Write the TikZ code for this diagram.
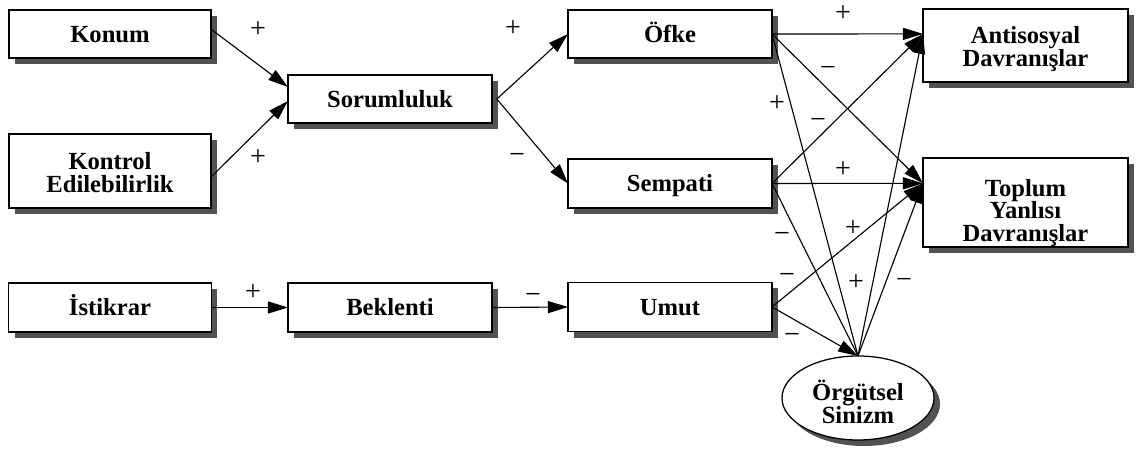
\documentclass[tikz,border=0pt]{standalone}
\usepackage{fontspec}
\setmainfont{Liberation Serif}
\usetikzlibrary{arrows.meta,shadows,shapes.geometric}
\begin{document}
\begin{tikzpicture}[x=0.025cm,y=-0.025cm,
  box/.style={draw=black, line width=0.9pt, fill=white, inner sep=0pt, outer sep=0pt,
    align=center, font=\bfseries\fontsize{17.5}{16.3}\selectfont,
    drop shadow={shadow xshift=0.15cm, shadow yshift=-0.15cm, fill=black!68, opacity=1}},
  oneline/.style={text height=11.8pt, text depth=0pt},
  ell/.style={box, ellipse, minimum width=3.8cm, minimum height=2.1cm},
  arr/.style={-{Triangle[length=0.5cm,width=0.3cm]}, line width=0.8pt},
  ln/.style={line width=0.8pt},
  sign/.style={font=\fontsize{20}{20}\selectfont, inner sep=0pt}]
\useasboundingbox (0,0) rectangle (1139,452);
% nodes
\node[box, oneline, minimum width=5.05cm, minimum height=1.2cm] (konum) at (110,34) {Konum};
\node[box, minimum width=5.05cm, minimum height=1.85cm] (kontrol) at (110,171) {\rule{0pt}{15pt}Kontrol\\Edilebilirlik};
\node[box, oneline, minimum width=5.1cm, minimum height=1.2cm] (sor) at (390,99) {Sorumluluk};
\node[box, oneline, minimum width=5.1cm, minimum height=1.2cm] (ofke) at (670,34) {Öfke};
\node[box, oneline, minimum width=5.1cm, minimum height=1.22cm] (sempati) at (670,183.5) {Sempati};
\node[box, oneline, minimum width=5.1cm, minimum height=1.24cm] (umut) at (670,307) {Umut};
\node[box, oneline, minimum width=5.07cm, minimum height=1.23cm] (istikrar) at (110,307.5) {İstikrar};
\node[box, oneline, minimum width=5.1cm, minimum height=1.23cm] (beklenti) at (390,307.5) {Beklenti};
\node[box, minimum width=5.125cm, minimum height=1.825cm] (anti) at (1025.5,45.5) {\rule{0pt}{17pt}Antisosyal\\Davranışlar};
\node[box, minimum width=5.125cm, minimum height=2.225cm] (toplum) at (1025.5,202.5) {\rule{0pt}{27pt}Toplum\\Yanlısı\\Davranışlar};
\node[ell] (sinizm) at (858,398) {\rule{0pt}{20pt}Örgütsel\\Sinizm};
% target points
\coordinate (antiIn) at ([yshift=0.29cm]anti.west);
\coordinate (topIn) at ([yshift=0.48cm]toplum.west);
% connectors
\draw[arr] ([yshift=0.12cm]konum.east) -- ([yshift=0.3cm]sor.west);
\draw[arr] ([yshift=-0.15cm]kontrol.east) -- ([yshift=-0.05cm]sor.west);
\draw[arr] ([xshift=0.12cm]sor.east) -- (ofke.west);
\draw[arr] ([xshift=0.12cm]sor.east) -- (sempati.west);
\draw[arr] (istikrar.east) -- (beklenti.west);
\draw[arr] (beklenti.east) -- (umut.west);
\draw[arr] (ofke.east) -- (antiIn);
\draw[arr] (ofke.east) -- (topIn);
\draw[ln] (ofke.east) -- (sinizm.north);
\draw[arr] (sempati.east) -- (antiIn);
\draw[arr] (sempati.east) -- (topIn);
\draw[ln] (sempati.east) -- (sinizm.north);
\draw[arr] (umut.east) -- (topIn);
\draw[arr] (umut.east) -- (sinizm.north);
\draw[arr] (sinizm.north) -- (antiIn);
\draw[arr] (sinizm.north) -- (topIn);
% signs
\node[sign] (s1) at (258,30) {+};
\node[sign] (s2) at (258,158) {+};
\node[sign] (s3) at (513,29) {+};
\node[sign] (s4) at (517,158) {−};
\node[sign] (s5) at (843,14) {+};
\node[sign] (s6) at (828,71) {−};
\node[sign] (s7) at (777,104) {+};
\node[sign] (s8) at (818,123) {−};
\node[sign] (s9) at (843,170) {+};
\node[sign] (s10) at (782,237) {−};
\node[sign] (s11) at (853,229) {+};
\node[sign] (s12) at (787,278) {−};
\node[sign] (s13) at (856,283) {+};
\node[sign] (s14) at (904,283) {−};
\node[sign] (s15) at (792,338) {−};
\node[sign] (s16) at (253,293) {+};
\node[sign] (s17) at (533,298) {−};
\end{tikzpicture}
\end{document}
